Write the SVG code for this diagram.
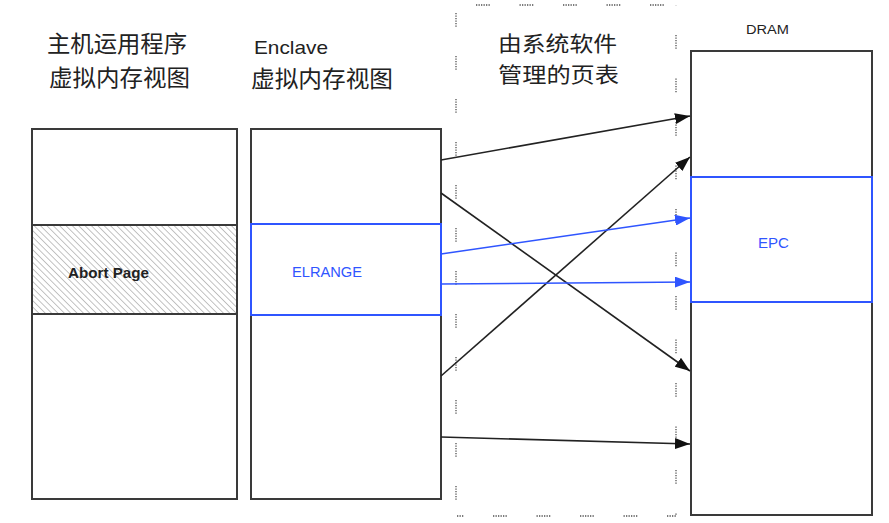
<svg xmlns="http://www.w3.org/2000/svg" width="889" height="523" viewBox="0 0 889 523">
  <style>
    .box { fill: #ffffff; stroke: #3a3a3a; stroke-width: 2; }
    .sep { stroke: #3a3a3a; stroke-width: 2; fill: none; }
    .blue { stroke: #2f55ff; stroke-width: 2; fill: none; }
    .cjk { font-family: "Noto Sans CJK SC", "Noto Sans", sans-serif; font-size: 23px; fill: #222222; }
    .cjk-sm { font-family: "Noto Sans CJK SC", "Noto Sans", sans-serif; font-size: 21px; fill: #222222; }
    .lat { font-family: "Liberation Sans", Arial, sans-serif; }
    .frame { stroke: #505050; stroke-width: 1.3; fill: none; }
    .link { stroke: #222222; stroke-width: 1.6; fill: none; marker-end: url(#arrow-black); }
    .link-blue { stroke: #2f55ff; stroke-width: 1.6; fill: none; marker-end: url(#arrow-blue); }
  </style>
  <defs>
    <pattern id="hatch" patternUnits="userSpaceOnUse" width="4.5" height="4.5" patternTransform="rotate(45)">
      <rect width="4.5" height="4.5" fill="#ffffff"/>
      <line x1="0" y1="0" x2="4.5" y2="0" stroke="#bdbdbd" stroke-width="1.8"/>
    </pattern>
    <marker id="arrow-black" markerUnits="userSpaceOnUse" markerWidth="15" markerHeight="11" refX="15" refY="5.5" orient="auto">
      <path d="M0,0 L15,5.5 L0,11 z" fill="#111111"/>
    </marker>
    <marker id="arrow-blue" markerUnits="userSpaceOnUse" markerWidth="15" markerHeight="11" refX="15" refY="5.5" orient="auto">
      <path d="M0,0 L15,5.5 L0,11 z" fill="#2f55ff"/>
    </marker>
  </defs>

  <rect width="889" height="523" fill="#ffffff"/>

  <!-- host application virtual memory view -->
  <g id="host-view">
    <text class="cjk" x="47" y="52" textLength="140" lengthAdjust="spacingAndGlyphs">主机运用程序</text>
    <text class="cjk" x="49" y="86" textLength="141" lengthAdjust="spacingAndGlyphs">虚拟内存视图</text>
    <rect class="box" x="32" y="129" width="205" height="370"/>
    <rect x="33" y="225" width="203" height="89" fill="url(#hatch)"/>
    <line class="sep" x1="32" y1="225" x2="237" y2="225"/>
    <line class="sep" x1="32" y1="314" x2="237" y2="314"/>
    <text class="lat" x="68" y="278" font-size="14.5" font-weight="bold" fill="#222222" textLength="81" lengthAdjust="spacingAndGlyphs">Abort Page</text>
  </g>

  <!-- enclave virtual memory view -->
  <g id="enclave-view">
    <text class="lat" x="254" y="54" font-size="19" fill="#222222" textLength="74" lengthAdjust="spacingAndGlyphs">Enclave</text>
    <text class="cjk" x="251" y="87" textLength="142" lengthAdjust="spacingAndGlyphs">虚拟内存视图</text>
    <rect class="box" x="251" y="129" width="190" height="370"/>
    <rect class="blue" x="251" y="224" width="190" height="91"/>
    <text class="lat" x="292" y="277" font-size="14" fill="#2f55ff" textLength="70" lengthAdjust="spacingAndGlyphs">ELRANGE</text>
  </g>

  <!-- page tables managed by system software: dotted dash frame -->
  <g id="page-table">
    <line class="frame" x1="456" y1="5" x2="676" y2="5" stroke-dasharray="1.3 1.2 1.3 1.2 1.3 1.2 1.3 1.2 1.3 1.2 1.3 29.7" stroke-dashoffset="23.5"/>
    <line class="frame" x1="456" y1="516" x2="676" y2="516" stroke-dasharray="1.3 1.2 1.3 1.2 1.3 1.2 1.3 1.2 1.3 1.2 1.3 29.7" stroke-dashoffset="6.5"/>
    <line class="frame" x1="456" y1="5" x2="456" y2="516" stroke-dasharray="1.3 1.2 1.3 1.2 1.3 1.2 1.3 1.2 1.3 1.2 1.3 29.2" stroke-dashoffset="35"/>
    <line class="frame" x1="676" y1="5" x2="676" y2="516" stroke-dasharray="1.3 1.2 1.3 1.2 1.3 1.2 1.3 1.2 1.3 1.2 1.3 29.7" stroke-dashoffset="13.5"/>
    <text class="cjk-sm" x="498" y="51" textLength="119" lengthAdjust="spacingAndGlyphs">由系统软件</text>
    <text class="cjk-sm" x="498" y="82" textLength="121" lengthAdjust="spacingAndGlyphs">管理的页表</text>
  </g>

  <!-- physical DRAM with the EPC region -->
  <g id="dram">
    <text class="lat" x="746" y="34" font-size="12.5" fill="#222222" textLength="43" lengthAdjust="spacingAndGlyphs">DRAM</text>
    <rect class="box" x="691" y="51" width="181" height="464"/>
    <rect class="blue" x="691" y="177" width="181" height="125"/>
    <text class="lat" x="758" y="248" font-size="15" fill="#2f55ff" textLength="31" lengthAdjust="spacingAndGlyphs">EPC</text>
  </g>

  <!-- page mappings -->
  <g id="connectors">
    <line class="link" x1="441" y1="160" x2="690" y2="116"/>
    <line class="link" x1="441" y1="193" x2="690" y2="371"/>
    <line class="link" x1="441" y1="376" x2="690" y2="157"/>
    <line class="link-blue" x1="441" y1="254" x2="690" y2="218"/>
    <line class="link-blue" x1="441" y1="284" x2="690" y2="282"/>
    <line class="link" x1="441" y1="437" x2="690" y2="444"/>
  </g>
</svg>
